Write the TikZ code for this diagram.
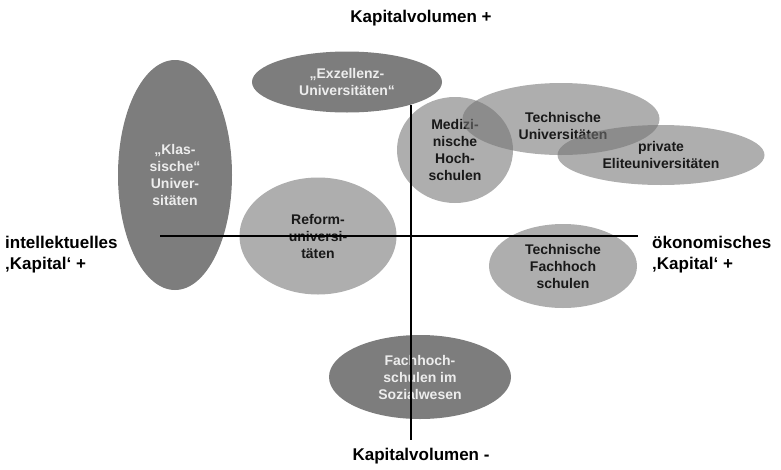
\documentclass[tikz,border=0pt]{standalone}
\usepackage{fontspec}
\setmainfont{Liberation Sans}
\usetikzlibrary{shapes.geometric}
\definecolor{darkell}{gray}{0.49}
\definecolor{lightell}{gray}{0.45}
\definecolor{lighttext}{gray}{0.93}
\tikzset{
  ell/.style={ellipse, inner sep=0pt, align=center,
    font=\fontsize{14}{17}\selectfont\bfseries},
  darkellipse/.style={ell, fill=darkell, text=lighttext},
  lightellipse/.style={ell, fill=lightell, fill opacity=0.58, text opacity=1, text=black!90},
  axislabel/.style={font=\fontsize{17}{21}\selectfont\bfseries, inner sep=0pt},
  axis/.style={draw=black, line width=1.2pt}
}
\begin{document}
\begin{tikzpicture}[x=1pt,y=-1pt]
\useasboundingbox (0,0) rectangle (781,469);
% dark ellipses
\node[darkellipse, minimum width=114pt, minimum height=230pt] (klass) at (175,175) {„Klas-\\sische“\\Univer-\\sitäten};
\node[darkellipse, minimum width=190pt, minimum height=61pt] (exz) at (347,82) {„Exzellenz-\\Universitäten“};
% light ellipses
\node[lightellipse, minimum width=157pt, minimum height=117pt] (reform) at (318,236) {Reform-\\universi-\\täten};
\node[lightellipse, minimum width=116pt, minimum height=106pt] (med) at (455,150) {Medizi-\\nische\\Hoch-\\schulen};
\node[lightellipse, minimum width=197pt, minimum height=72pt] (tu) at (561,119) {};
\node[ell, text=black!90] (tutext) at (563,126) {Technische\\Universitäten};
\node[lightellipse, minimum width=207pt, minimum height=60pt] (priv) at (661,155) {private\\Eliteuniversitäten};
\node[lightellipse, minimum width=148pt, minimum height=84pt] (tfh) at (563,266) {Technische\\Fachhoch\\schulen};
% dark bottom ellipse
\node[darkellipse, minimum width=182pt, minimum height=84pt] (sozial) at (420,377) {Fachhoch-\\schulen im\\Sozialwesen};
% axes
\coordinate (vtop) at (411,105);
\coordinate (vbot) at (411,440);
\coordinate (hleft) at (160,236);
\coordinate (hright) at (638,236);
\draw[axis] (vtop) -- (vbot);
\draw[axis] (hleft) -- (hright);
% axis labels
\node[axislabel] (kvplus) at (421,18) {Kapitalvolumen +};
\node[axislabel] (kvminus) at (421,456) {Kapitalvolumen -};
\node[axislabel, anchor=west, align=left] (intel) at (5,255) {intellektuelles\\‚Kapital‘ +};
\node[axislabel, anchor=west, align=left] (oekon) at (652,255) {ökonomisches\\‚Kapital‘ +};
\end{tikzpicture}
\end{document}
